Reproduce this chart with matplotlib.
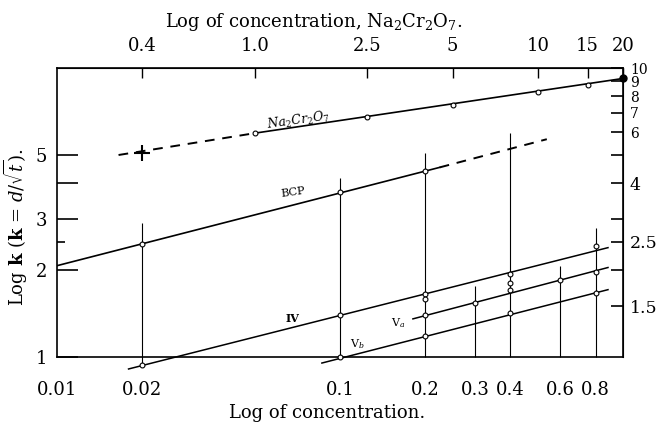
import matplotlib
matplotlib.use('Agg')
import matplotlib.pyplot as plt
from matplotlib.ticker import NullLocator, NullFormatter

plt.rcParams['font.family'] = 'DejaVu Serif'
plt.rcParams['mathtext.fontset'] = 'dejavuserif'

# Eje inferior: concentración; eje superior: concentración de Na2Cr2O7 (= 20 x inferior)
x_ticks = [0.01, 0.02, 0.1, 0.2, 0.3, 0.4, 0.6, 0.8]
x_labels = ['0.01', '0.02', '0.1', '0.2', '0.3', '0.4', '0.6', '0.8']
top_ticks = [0.4, 1.0, 2.5, 5, 10, 15, 20]
top_labels = ['0.4', '1.0', '2.5', '5', '10', '15', '20']
left_ticks = [1, 2, 3, 4, 5]
left_labels = ['1', '2', '3', '', '5']
right_ticks = [1.5, 2, 2.5, 3, 4, 5, 6, 7, 8, 9, 10]
right_labels = ['1.5', '', '2.5', '', '4', '', '6', '7', '8', '9', '10']

# Na2Cr2O7 (concentración del eje superior)
na_dash_c = [0.33, 1.0]
na_dash_k = [5.0, 5.95]
na_line_c = [1.0, 20]
na_line_k = [5.95, 9.2]
na_pts_c = [1.0, 2.5, 5, 10, 15]
na_pts_k = [5.95, 6.76, 7.44, 8.28, 8.75]
na_cross_c = [0.4]
na_cross_k = [5.1]
na_end_c = [20]
na_end_k = [9.2]

# BCP
bcp_line_x = [0.01, 0.225]
bcp_line_k = [2.07, 4.53]
bcp_dash_x = [0.225, 0.538]
bcp_dash_k = [4.53, 5.67]
bcp_pts_x = [0.02, 0.1, 0.2]
bcp_pts_k = [2.47, 3.71, 4.39]

# IV
iv_line_x = [0.0179, 0.885]
iv_line_k = [0.909, 2.39]
iv_pts_x = [0.02, 0.1, 0.2, 0.4, 0.8]
iv_pts_k = [0.938, 1.40, 1.655, 1.93, 2.42]

# Va
va_line_x = [0.181, 0.885]
va_line_k = [1.355, 2.04]
va_pts_x = [0.2, 0.3, 0.4, 0.6, 0.8]
va_pts_k = [1.40, 1.54, 1.71, 1.85, 1.97]

# Vb
vb_line_x = [0.0863, 0.885]
vb_line_k = [0.953, 1.71]
vb_pts_x = [0.1, 0.2, 0.4, 0.8]
vb_pts_k = [1.0, 1.18, 1.42, 1.67]

# puntos sueltos
extra_x = [0.2, 0.4]
extra_k = [1.59, 1.81]

# líneas verticales (rangos)
vl_x = [0.02, 0.1, 0.2, 0.3, 0.4, 0.6, 0.8]
vl_top = [2.9, 4.15, 5.07, 1.76, 5.95, 2.07, 2.8]
vl_bot = [0.94, 1, 1, 1, 1, 1, 1]

fig = plt.figure(figsize=(6.61, 4.24), dpi=100)
ax = fig.add_axes([57 / 661, 1 - 357 / 424, 566 / 661, 289 / 424])
ax.set_xscale('log')
ax.set_yscale('log')
ax.set_xlim(0.01, 1.0)
ax.set_ylim(1, 10)

circ = dict(marker='o', ms=3.5, mfc='white', mec='black', mew=0.8, ls='none', clip_on=False, zorder=4)

ax.vlines(vl_x, vl_bot, vl_top, color='black', lw=0.8, clip_on=False)

# Na2Cr2O7
ax.plot([c / 20 for c in na_dash_c], na_dash_k, color='black', lw=1.4, ls=(0, (5, 4)))
ax.plot([c / 20 for c in na_line_c], na_line_k, color='black', lw=1.2, clip_on=False)
ax.plot([c / 20 for c in na_pts_c], na_pts_k, **circ)
ax.plot([c / 20 for c in na_cross_c], na_cross_k, marker='+', ms=12, mew=1.5, color='black', ls='none')
ax.plot([c / 20 for c in na_end_c], na_end_k, marker='o', ms=5, color='black', ls='none', clip_on=False)

# BCP
ax.plot(bcp_line_x, bcp_line_k, color='black', lw=1.2)
ax.plot(bcp_dash_x, bcp_dash_k, color='black', lw=1.4, ls=(0, (5, 4)))
ax.plot(bcp_pts_x, bcp_pts_k, **circ)

# IV, Va, Vb
for lx, lk, px, pk in [(iv_line_x, iv_line_k, iv_pts_x, iv_pts_k),
                       (va_line_x, va_line_k, va_pts_x, va_pts_k),
                       (vb_line_x, vb_line_k, vb_pts_x, vb_pts_k)]:
    ax.plot(lx, lk, color='black', lw=1.1, clip_on=False)
    ax.plot(px, pk, **circ)
ax.plot(extra_x, extra_k, **circ)

# rótulos de las curvas
ax.text(0.0711, 6.55, r'$Na_2Cr_2O_7$', fontsize=9, ha='center', va='center', rotation=8, style='italic')
ax.text(0.0682, 3.72, 'BCP', fontsize=8, ha='center', va='center', rotation=8)
ax.text(0.0682, 1.36, 'IV', fontsize=8, ha='center', va='center', fontweight='bold')
ax.text(0.160, 1.31, r'V$_a$', fontsize=8, ha='center', va='center')
ax.text(0.115, 1.11, r'V$_b$', fontsize=8, ha='center', va='center')

# eje inferior
ax.xaxis.set_minor_locator(NullLocator())
ax.set_xticks(x_ticks, x_labels)
ax.tick_params(axis='x', length=0, pad=17, labelsize=13)
ax.set_xlabel('Log of concentration.', fontsize=13)
ax.xaxis.label.set_va('center')
ax.xaxis.set_label_coords(0.477, -0.194)

# eje izquierdo
ax.set_yticks(left_ticks, left_labels)
ax.set_yticks([2.5], minor=True)
ax.yaxis.set_minor_formatter(NullFormatter())
ax.tick_params(axis='y', which='major', direction='in', length=15, width=1.2, pad=7, labelsize=13)
ax.tick_params(axis='y', which='minor', direction='in', length=6, width=1.2)
ax.set_ylabel(r'Log $\mathbf{k}$ ($\mathbf{k}$ = $d/\sqrt{t}$).', fontsize=13)
ax.yaxis.label.set_va('center')
ax.yaxis.set_label_coords(-0.072, 0.45)

# eje superior
secx = ax.secondary_xaxis('top', functions=(lambda x: x * 20, lambda x: x / 20))
secx.xaxis.set_minor_locator(NullLocator())
secx.set_xticks(top_ticks, top_labels)
secx.tick_params(axis='x', direction='in', length=7, width=1.0, pad=9, labelsize=13)
ax.text(0.454, 1.159, r'Log of concentration, Na$_2$Cr$_2$O$_7$.', transform=ax.transAxes,
        ha='center', va='center', fontsize=13)

# eje derecho
secy = ax.secondary_yaxis('right')
secy.yaxis.set_minor_locator(NullLocator())
secy.set_yticks(right_ticks, right_labels)
secy.tick_params(axis='y', direction='in', length=9, width=1.2, pad=5, labelsize=12.5)
for lab in secy.get_yticklabels():
    if lab.get_text() in ['6', '7', '8', '9', '10']:
        lab.set_fontsize(10)

for s in ax.spines.values():
    s.set_linewidth(1.2)

plt.savefig('out.png', dpi=100)
